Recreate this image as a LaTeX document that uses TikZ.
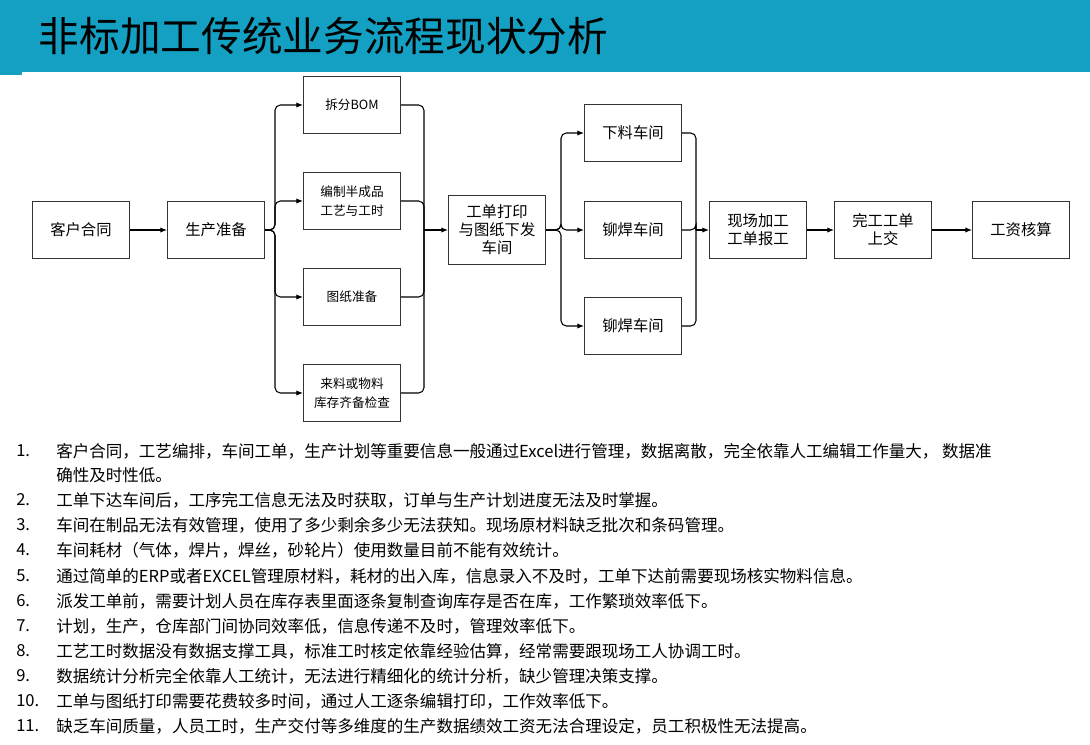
\documentclass[tikz,border=0pt]{standalone}
\usepackage{fontspec}
\setmainfont{Noto Sans CJK SC}
\usetikzlibrary{arrows.meta}
\definecolor{barblue}{HTML}{14A0C2}
\tikzset{
    proc/.style={draw=black!80, line width=0.8pt, minimum width=72.75pt, minimum height=42.75pt, align=center, font=\fontsize{11.5}{13.5}\selectfont, inner sep=1pt},
    small/.style={font=\fontsize{9.5}{14}\selectfont},
    arr/.style={-{Latex[length=5pt,width=4pt]}, line width=0.8pt, rounded corners=4pt},
    lnk/.style={line width=0.8pt, rounded corners=4pt},
    item/.style={anchor=west, font=\fontsize{12.4}{14}\selectfont, inner sep=0pt}
}
\begin{document}
\begin{tikzpicture}[x=0.75pt, y=-0.75pt]
    \useasboundingbox (0,0) rectangle (1090,744);
    % header
    \fill[barblue] (0,0) rectangle (1090,72);
    \fill[barblue] (0,70) rectangle (22,75);
    \node[anchor=west, font=\fontsize{30.5}{34}\selectfont] (title) at (34,36) {非标加工传统业务流程现状分析};

    % flow boxes
    \node[proc] (contract) at (81,230) {客户合同};
    \node[proc] (prep) at (216,230) {生产准备};
    \node[proc, small] (bom) at (352,105) {拆分BOM};
    \node[proc, small] (craft) at (352,201) {编制半成品\\工艺与工时};
    \node[proc, small] (drawing) at (352,297) {图纸准备};
    \node[proc, small] (stock) at (352,393) {来料或物料\\库存齐备检查};
    \node[proc, minimum height=51.75pt] (print) at (497,230) {工单打印\\与图纸下发\\车间};
    \node[proc] (cut) at (633,133) {下料车间};
    \node[proc] (weld) at (633,230) {铆焊车间};
    \node[proc] (weldb) at (633,326) {铆焊车间};
    \node[proc] (site) at (758,230) {现场加工\\工单报工};
    \node[proc] (done) at (883,230) {完工工单\\上交};
    \node[proc] (wage) at (1021,230) {工资核算};

    \coordinate (splitA) at (275,230);
    \coordinate (joinA) at (424,230);
    \coordinate (splitB) at (561,230);
    \coordinate (joinB) at (696,230);

    % connectors
    \draw[arr] (contract) -- (prep);
    \foreach \n in {bom, craft, drawing, stock} {
        \draw[arr] (prep.east) -- (splitA) |- (\n.west);
        \draw[lnk] (\n.east) -| (joinA);
    }
    \draw[arr] (joinA) -- (print.west);
    \foreach \n in {cut, weld, weldb} {
        \draw[arr] (print.east) -- (splitB) |- (\n.west);
        \draw[lnk] (\n.east) -| (joinB);
    }
    \draw[arr] (joinB) -- (site.west);
    \draw[arr] (site) -- (done);
    \draw[arr] (done) -- (wage);

    % notes
    \foreach \y/\k/\t in {
        451/1./{客户合同，工艺编排，车间工单，生产计划等重要信息一般通过Excel进行管理，数据离散，完全依靠人工编辑工作量大， 数据准},
        500/2./{工单下达车间后，工序完工信息无法及时获取，订单与生产计划进度无法及时掌握。},
        525/3./{车间在制品无法有效管理，使用了多少剩余多少无法获知。现场原材料缺乏批次和条码管理。},
        550/4./{车间耗材（气体，焊片，焊丝，砂轮片）使用数量目前不能有效统计。},
        576/5./{通过简单的ERP或者EXCEL管理原材料，耗材的出入库，信息录入不及时，工单下达前需要现场核实物料信息。},
        601/6./{派发工单前，需要计划人员在库存表里面逐条复制查询库存是否在库，工作繁琐效率低下。},
        626/7./{计划，生产，仓库部门间协同效率低，信息传递不及时，管理效率低下。},
        651/8./{工艺工时数据没有数据支撑工具，标准工时核定依靠经验估算，经常需要跟现场工人协调工时。},
        676/9./{数据统计分析完全依靠人工统计，无法进行精细化的统计分析，缺少管理决策支撑。},
        701/10./{工单与图纸打印需要花费较多时间，通过人工逐条编辑打印，工作效率低下。},
        726/11./{缺乏车间质量，人员工时，生产交付等多维度的生产数据绩效工资无法合理设定，员工积极性无法提高。}} {
        \node[item] at (16,\y) {\k};
        \node[item] at (56,\y) {\t};
    }
    \node[item] (wrap) at (56,475) {确性及时性低。};
\end{tikzpicture}
\end{document}
